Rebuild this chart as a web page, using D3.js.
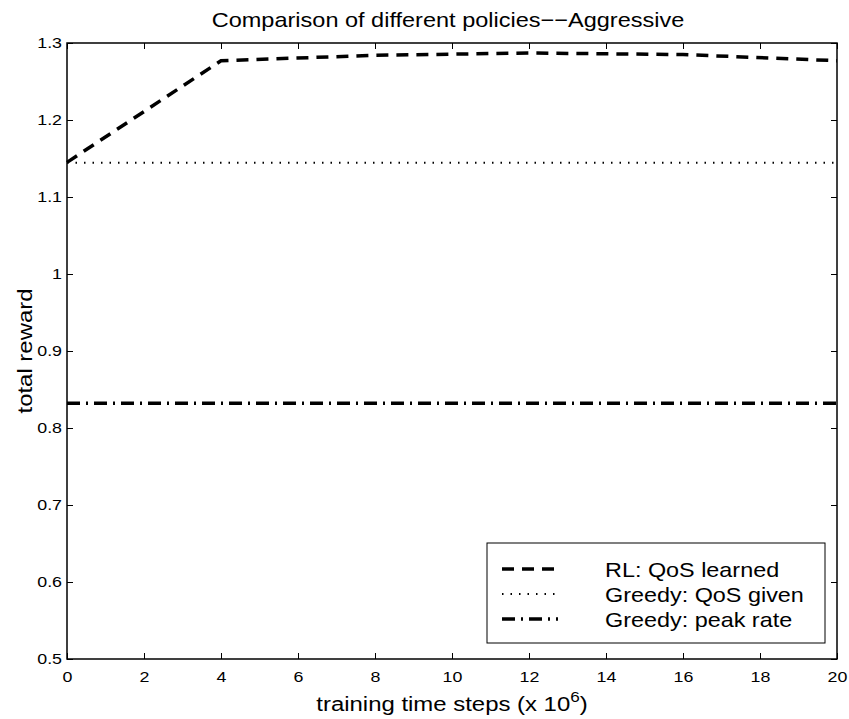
<!DOCTYPE html>
<html>
<head>
<meta charset="utf-8">
<script src="https://cdn.jsdelivr.net/npm/d3@7"></script>
<style>
  body { margin: 0; background: #fff; }
  text { font-family: "Liberation Sans", Arial, sans-serif; fill: #000; }
</style>
</head>
<body>
<script>
const width = 849;
const height = 719;

// data
const steps = [0, 4, 8, 12, 16, 20];
const rlLearned = [1.145, 1.277, 1.284, 1.287, 1.285, 1.277];
const greedyQosX = [0, 20];
const greedyQos = [1.1445, 1.1445];
const greedyPeakX = [0, 20];
const greedyPeak = [0.832, 0.832];
const xTicks = [0, 2, 4, 6, 8, 10, 12, 14, 16, 18, 20];
const yTicks = [0.5, 0.6, 0.7, 0.8, 0.9, 1, 1.1, 1.2, 1.3];
const legendLabels = ['RL: QoS learned', 'Greedy: QoS given', 'Greedy: peak rate'];

const mLeft = 67, mRight = 837, mTop = 43, mBottom = 659;

const x = d3.scaleLinear().domain([0, 20]).range([mLeft, mRight]);
const y = d3.scaleLinear().domain([0.5, 1.3]).range([mBottom, mTop]);

const svg = d3.select('body')
  .append('svg')
  .attr('width', width)
  .attr('height', height);

// the original font is a bit wider than Liberation Sans, so stretch text sideways
const tickSx = 1.15;
const fmt = d => String(d);
svg.append('g')
  .attr('transform', `translate(0,${mBottom})`)
  .call(d3.axisBottom(x).tickValues(xTicks).tickFormat(fmt).tickSizeInner(-6).tickSizeOuter(0).tickPadding(12))
  .call(g => g.selectAll('text').attr('font-size', 15.5).attr('transform', `scale(${tickSx},1)`));
svg.append('g')
  .attr('transform', `translate(0,${mTop})`)
  .call(d3.axisTop(x).tickValues(xTicks).tickFormat('').tickSizeInner(-6).tickSizeOuter(0));
svg.append('g')
  .attr('transform', `translate(${mLeft},0)`)
  .call(d3.axisLeft(y).tickValues(yTicks).tickFormat(fmt).tickSizeInner(-6).tickSizeOuter(0).tickPadding(4))
  .call(g => g.selectAll('text').attr('font-size', 15.5).attr('x', -5 / tickSx).attr('transform', `scale(${tickSx},1)`));
svg.append('g')
  .attr('transform', `translate(${mRight},0)`)
  .call(d3.axisRight(y).tickValues(yTicks).tickFormat('').tickSizeInner(-6).tickSizeOuter(0));

svg.selectAll('.domain').remove();
svg.selectAll('.tick line').attr('stroke', '#000').attr('stroke-width', 1);

svg.append('rect')
  .attr('x', mLeft).attr('y', mTop)
  .attr('width', mRight - mLeft).attr('height', mBottom - mTop)
  .attr('fill', 'none').attr('stroke', '#000').attr('stroke-width', 1.5);

// lines
const line = d3.line().x(d => x(d[0])).y(d => y(d[1]));
const styles = [
  { dash: '12,8', width: 3.5 },
  { dash: '1.5,7', width: 1.8 },
  { dash: '13,6,2,6', width: 3.5 },
];
const series = [
  d3.zip(steps, rlLearned),
  d3.zip(greedyQosX, greedyQos),
  d3.zip(greedyPeakX, greedyPeak),
];
svg.selectAll('.series')
  .data(series)
  .join('path')
    .attr('class', 'series')
    .attr('d', line)
    .attr('fill', 'none')
    .attr('stroke', '#000')
    .attr('stroke-width', (d, i) => styles[i].width)
    .attr('stroke-dasharray', (d, i) => styles[i].dash);

// legend
const legend = svg.append('g');
legend.append('rect')
  .attr('x', 487).attr('y', 543).attr('width', 338).attr('height', 100)
  .attr('fill', '#fff').attr('stroke', '#000').attr('stroke-width', 1);
const rows = legend.selectAll('.row')
  .data(legendLabels)
  .join('g')
    .attr('transform', (d, i) => `translate(0,${569 + i * 25})`);
rows.append('line')
  .attr('x1', 502).attr('x2', 558).attr('y1', 0).attr('y2', 0)
  .attr('stroke', '#000')
  .attr('stroke-width', (d, i) => styles[i].width)
  .attr('stroke-dasharray', (d, i) => styles[i].dash);
rows.append('text')
  .attr('transform', 'translate(605,7.5) scale(1.17,1)')
  .attr('font-size', 20)
  .text(d => d);

// title and labels
svg.append('text')
  .attr('transform', `translate(${(mLeft + mRight) / 2 - 4},27) scale(1.12,1)`)
  .attr('text-anchor', 'middle').attr('font-size', 21)
  .text('Comparison of different policies\u2212\u2212Aggressive');

const xl = svg.append('text')
  .attr('transform', `translate(${(mLeft + mRight) / 2},711) scale(1.14,1)`)
  .attr('text-anchor', 'middle').attr('font-size', 21);
xl.append('tspan').text('training time steps (x 10');
xl.append('tspan').attr('dy', -9).attr('font-size', 15).text('6');
xl.append('tspan').attr('dy', 9).text(')');

svg.append('text')
  .attr('transform', `translate(32,${(mTop + mBottom) / 2}) rotate(-90) scale(1.14,1)`)
  .attr('text-anchor', 'middle').attr('font-size', 21)
  .text('total reward');
</script>
</body>
</html>
